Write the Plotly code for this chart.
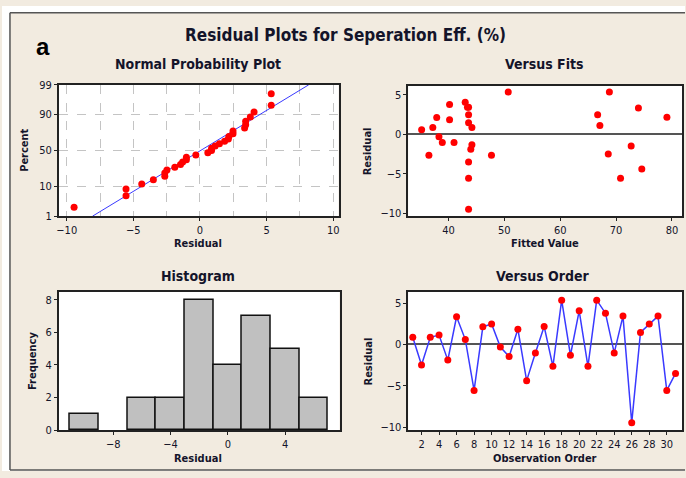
import plotly.graph_objects as go
from statistics import NormalDist
import numpy as np

# ---------------- data ----------------
observation_order = list(range(1, 32))
residuals = [0.87, -2.48, 0.87, 1.14, -1.89, 3.35, 0.59, -5.55, 2.13, 2.48,
             -0.31, -1.46, 1.85, -4.37, -1.02, 2.17, -2.64, 5.35, -1.30, 4.06,
             -2.64, 5.35, 3.78, -1.02, 3.43, -9.45, 1.46, 2.48, 3.43, -5.55, -3.50]
fitted_values = [37.2, 68.6, 44.2, 67.1, 44.0, 74.0, 35.2, 43.6, 37.9, 43.6,
                 38.3, 72.7, 40.2, 74.6, 38.9, 79.1, 36.5, 50.7, 44.2, 43.0,
                 47.7, 68.8, 40.2, 41.0, 43.6, 43.6, 43.6, 66.7, 43.4, 70.8, 43.6]
percent_ticks = [1, 10, 50, 90, 99]
npp_x_ticks = [-10, -5, 0, 5, 10]
fits_x_ticks = [40, 50, 60, 70, 80]
resid_y_ticks = [-10, -5, 0, 5]
hist_x_ticks = [-8, -4, 0, 4]
hist_y_ticks = [0, 2, 4, 6, 8]
order_x_ticks = list(range(2, 31, 2))

# ---------------- derived ----------------
nd = NormalDist()
n = len(residuals)
sorted_res = sorted(residuals)
npp_z = [nd.inv_cdf((i - 0.3) / (n + 0.4)) for i in range(1, n + 1)]
mu = float(np.mean(residuals))
sd = float(np.std(residuals, ddof=1))
z_lo, z_hi = nd.inv_cdf(0.01), nd.inv_cdf(0.99)
line_z = [z_lo, z_hi]
line_x = [mu + sd * z for z in line_z]

W, H = 686, 478
FONT = "Tahoma, 'DejaVu Sans Condensed', 'Noto Sans', sans-serif"
TXT = "#14142a"
BEIGE = "#f2ebe0"

def dx(px0, px1):
    return [px0 / W, px1 / W]

def dy(top, bottom):
    return [1 - bottom / H, 1 - top / H]

fig = go.Figure()

# Normal probability plot
fig.add_trace(go.Scatter(x=line_x, y=line_z, mode="lines",
                         line=dict(color="#3a3aff", width=1), xaxis="x", yaxis="y",
                         hoverinfo="skip", showlegend=False))
fig.add_trace(go.Scatter(x=sorted_res, y=npp_z, mode="markers",
                         marker=dict(color="#ff0000", size=7), xaxis="x", yaxis="y",
                         showlegend=False))
# Versus fits
fig.add_trace(go.Scatter(x=fitted_values, y=residuals, mode="markers",
                         marker=dict(color="#ff0000", size=7), xaxis="x2", yaxis="y2",
                         showlegend=False))
# Histogram
fig.add_trace(go.Histogram(x=residuals, xbins=dict(start=-11, end=7, size=2),
                           marker=dict(color="#c0c0c0", line=dict(color="#111", width=1.5)),
                           xaxis="x3", yaxis="y3", showlegend=False))
# Versus order
fig.add_trace(go.Scatter(x=observation_order, y=residuals, mode="lines+markers",
                         line=dict(color="#3a3aff", width=1.5),
                         marker=dict(color="#ff0000", size=7), xaxis="x4", yaxis="y4",
                         showlegend=False))

base = dict(showline=True, mirror=True, linecolor="#222", linewidth=1.5,
            ticks="outside", ticklen=3, tickcolor="#222", showgrid=False,
            zeroline=False, tickfont=dict(size=11, color=TXT, family=FONT))

grid = dict(showgrid=True, gridcolor="#c4c4c4", griddash="dash", gridwidth=1)

layout = dict(
    width=W, height=H, margin=dict(l=0, r=0, t=0, b=0),
    paper_bgcolor=BEIGE, plot_bgcolor="white", showlegend=False, bargap=0,
    xaxis=dict(base, domain=dx(57, 338), range=[-10.6, 10.4], tickvals=npp_x_ticks,
               minor=dict(dtick=2.5, tick0=0, showgrid=True, gridcolor="#c4c4c4",
                          griddash="dash", ticks=""), anchor="y", **grid),
    yaxis=dict(base, domain=dy(81, 216), range=[z_lo, z_hi],
               tickvals=[nd.inv_cdf(p / 100) for p in percent_ticks],
               ticktext=[str(p) for p in percent_ticks], anchor="x", **grid),
    xaxis2=dict(base, domain=dx(408, 683), range=[32.8, 81.8], tickvals=fits_x_ticks, anchor="y2"),
    yaxis2=dict(base, domain=dy(82, 216), range=[-10.33, 6.15], tickvals=resid_y_ticks,
                zeroline=True, zerolinecolor="#555", zerolinewidth=1.5, anchor="x2"),
    xaxis3=dict(base, domain=dx(57, 339), range=[-11.8, 7.8], tickvals=hist_x_ticks, anchor="y3"),
    yaxis3=dict(base, domain=dy(294, 436), range=[0, 8.48], tickvals=hist_y_ticks, anchor="x3"),
    xaxis4=dict(base, domain=dx(408, 683), range=[0.48, 31.74], tickvals=order_x_ticks, anchor="y4"),
    yaxis4=dict(base, domain=dy(294, 436), range=[-10.35, 6.34], tickvals=resid_y_ticks,
                zeroline=True, zerolinecolor="#555", zerolinewidth=1.5, anchor="x4"),
)
fig.update_layout(**layout)

def ann(text, x, y, size, angle=0, color=TXT, family=FONT):
    fig.add_annotation(text=text, x=x / W, y=1 - y / H, xref="paper", yref="paper",
                       showarrow=False, xanchor="center", yanchor="middle", textangle=angle,
                       font=dict(size=size, color=color, family=family))

ann("<b>Residual Plots for Seperation Eff. (%)</b>", 345, 30, 17)
ann("<b>a</b>", 41, 42, 24, color="#000", family="'Liberation Sans', Arial, sans-serif")
ann("<b>Normal Probability Plot</b>", 197, 60, 14)
ann("<b>Versus Fits</b>", 545, 60, 14)
ann("<b>Histogram</b>", 197, 278, 14)
ann("<b>Versus Order</b>", 543, 278, 14)
ann("<b>Residual</b>", 197, 244, 11)
ann("<b>Percent</b>", 23, 148, 11, angle=-90)
ann("<b>Fitted Value</b>", 545, 244, 11)
ann("<b>Residual</b>", 368, 149, 11, angle=-90)
ann("<b>Residual</b>", 197, 465, 11)
ann("<b>Frequency</b>", 30, 365, 11, angle=-90)
ann("<b>Observation Order</b>", 545, 465, 11)
ann("<b>Residual</b>", 368, 365, 11, angle=-90)

# white outside strips and frame
fig.add_shape(type="rect", xref="paper", yref="paper", x0=0, x1=8 / W, y0=0, y1=1,
              fillcolor="white", line=dict(width=0), layer="below")
fig.add_shape(type="rect", xref="paper", yref="paper", x0=0, x1=1, y0=1 - 7 / H, y1=1,
              fillcolor="white", line=dict(width=0), layer="below")
fig.add_shape(type="rect", xref="paper", yref="paper", x0=0, x1=1, y0=0, y1=1 - 477 / H,
              fillcolor="white", line=dict(width=0), layer="below")
fig.add_shape(type="line", xref="paper", yref="paper", x0=8 / W, x1=8 / W,
              y0=1 - 477 / H, y1=1 - 7 / H, line=dict(color="#555", width=1.5))
fig.add_shape(type="line", xref="paper", yref="paper", x0=8 / W, x1=1,
              y0=1 - 7 / H, y1=1 - 7 / H, line=dict(color="#555", width=1.5))
fig.add_shape(type="line", xref="paper", yref="paper", x0=8 / W, x1=1,
              y0=1 - 477 / H, y1=1 - 477 / H, line=dict(color="#555", width=1.5))

fig.write_html("out.html", config=dict(displayModeBar=False),
               post_script="document.body.style.margin='0';document.body.style.overflow='hidden';")
